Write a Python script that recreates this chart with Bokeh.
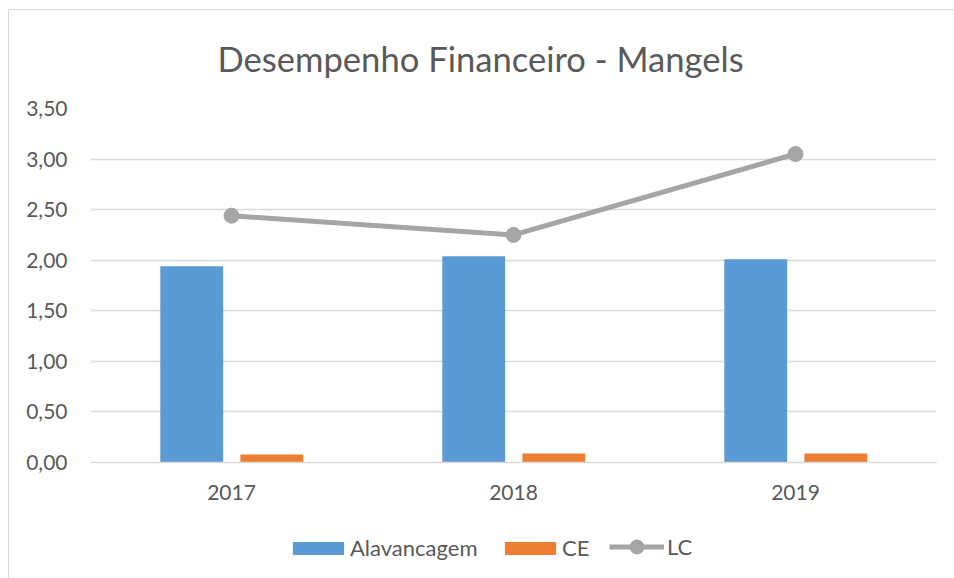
from bokeh.plotting import figure
from bokeh.models import ColumnDataSource, FactorRange, Range1d, FixedTicker, Legend, LegendItem
from bokeh.layouts import column
from bokeh.transform import dodge
from bokeh.embed import file_html
from bokeh.resources import INLINE

years = ["2017", "2018", "2019"]
alavancagem = [1.94, 2.04, 2.01]
ce = [0.08, 0.09, 0.09]
lc = [2.44, 2.25, 3.05]
y_ticks = [0, 0.5, 1.0, 1.5, 2.0, 2.5, 3.0, 3.5]
y_tick_labels = ["0,00", "0,50", "1,00", "1,50", "2,00", "2,50", "3,00", "3,50"]
series_names = ["Alavancagem", "CE", "LC"]
title_text = "Desempenho Financeiro - Mangels"

FONT = "Lato"
TXT = "#595959"
BLUE, ORANGE, GREY = "#5b9bd5", "#ed7d31", "#a5a5a5"

src = ColumnDataSource(dict(year=years, alav=alavancagem, ce=ce, lc=lc))

p = figure(width=945, height=510, x_range=FactorRange(*years, range_padding=0),
           y_range=Range1d(0, 3.5), output_backend="svg", toolbar_location=None,
           min_border_left=81, min_border_right=18, min_border_top=97, min_border_bottom=58)
p.outline_line_color = None
p.background_fill_color = "white"
p.border_fill_color = "white"

p.title.text = title_text
p.title.text_font = FONT
p.title.text_font_size = "34.6px"
p.title.text_font_style = "normal"
p.title.text_color = TXT
p.title.align = "left"
p.title.vertical_align = "top"
p.title.offset = 127
p.title.standoff = 55

p.vbar(x=dodge("year", -0.141, range=p.x_range), top="alav", width=0.223, source=src,
       fill_color=BLUE, line_color=None)
p.vbar(x=dodge("year", 0.143, range=p.x_range), top="ce", width=0.223, source=src,
       fill_color=ORANGE, line_color=None)
p.line(x="year", y="lc", source=src, line_color=GREY, line_width=5)
p.scatter(x="year", y="lc", source=src, size=15, fill_color=GREY, line_color=GREY)

p.xgrid.grid_line_color = None
p.ygrid.grid_line_color = "#d9d9d9"
p.ygrid.grid_line_width = 1.3
p.yaxis.ticker = FixedTicker(ticks=y_ticks)
p.yaxis.major_label_overrides = {t: l for t, l in zip(y_ticks, y_tick_labels)}
for ax in (p.xaxis, p.yaxis):
    ax.major_tick_line_color = None
    ax.minor_tick_line_color = None
    ax.major_label_text_font = FONT
    ax.major_label_text_font_size = "21px"
    ax.major_label_text_color = TXT
p.yaxis.axis_line_color = None
p.yaxis.major_label_standoff = 17
p.xaxis.axis_line_color = "#d9d9d9"
p.xaxis.axis_line_width = 1.3
p.xaxis.major_label_standoff = 16

# legend strip below the chart (its sample glyphs lie outside its visible range)
lg = figure(width=945, height=58, x_range=Range1d(0, 1), y_range=Range1d(10, 11),
            output_backend="svg", toolbar_location=None,
            x_axis_location=None, y_axis_location=None,
            min_border_left=0, min_border_right=0, min_border_top=0, min_border_bottom=0)
lg.grid.visible = False
lg.outline_line_color = None
lr1 = lg.vbar(x=[0.5], top=[1], width=0.1, fill_color=BLUE, line_color=None)
lr2 = lg.vbar(x=[0.5], top=[1], width=0.1, fill_color=ORANGE, line_color=None)
lr3 = lg.line(x=[0.4, 0.6], y=[1, 1], line_color=GREY, line_width=5)
lr4 = lg.scatter(x=[0.5], y=[1], size=15, fill_color=GREY, line_color=GREY)

common = dict(orientation="horizontal", padding=0, margin=0, border_line_color=None,
              background_fill_alpha=0, label_text_font=FONT, label_text_font_size="22px",
              label_text_color=TXT)
leg_a = Legend(items=[LegendItem(label=series_names[0], renderers=[lr1])],
               location=(196, 17), glyph_width=64, glyph_height=16, label_standoff=0, **common)
leg_b = Legend(items=[LegendItem(label=series_names[1], renderers=[lr2])],
               location=(408, 17), glyph_width=64, glyph_height=16, label_standoff=0, **common)
leg_c = Legend(items=[LegendItem(label=series_names[2], renderers=[lr3, lr4])],
               location=(519, 14), glyph_width=55, glyph_height=35, label_standoff=3, **common)
for l in (leg_a, leg_b, leg_c):
    lg.add_layout(l, "center")

layout = column(p, lg, spacing=0)
layout.styles = {"margin-left": "8px", "margin-top": "9px",
                 "border-left": "1px solid #d9d9d9", "border-top": "1px solid #d9d9d9"}

open("out.html", "w").write(file_html(layout, INLINE))
